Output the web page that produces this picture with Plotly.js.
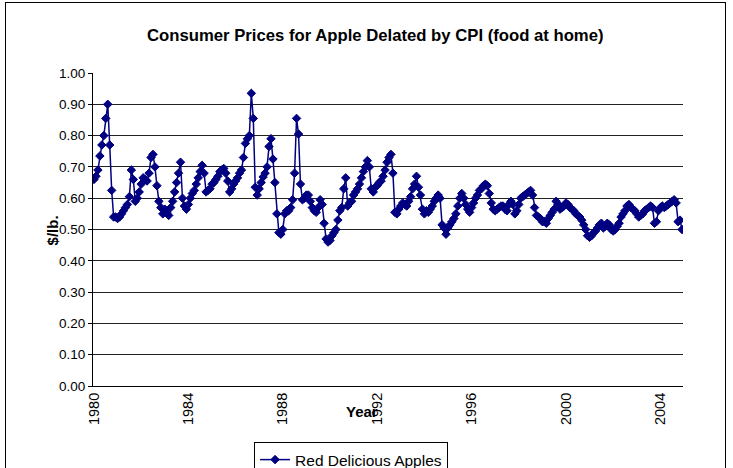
<!DOCTYPE html>
<html>
<head>
<meta charset="utf-8">
<script src="https://cdn.plot.ly/plotly-3.0.1.min.js"></script>
<style>
  html, body { margin: 0; padding: 0; background: #fff; overflow: hidden; }
  #frame { position: absolute; left: 5px; top: 2px; width: 721px; height: 520px; border: 1px solid #000; box-sizing: border-box; pointer-events: none; z-index: 10; }
  #chart { position: absolute; left: 0; top: 0; width: 733px; height: 490px; }
</style>
</head>
<body>
<div id="chart"></div>
<div id="frame"></div>
<script>
// Monthly Red Delicious apple price deflated by CPI, Jan 1980 - Dec 2004 ($/lb.)
const seriesName = 'Red Delicious Apples';
const prices = [
  // 1980
  0.66, 0.67, 0.69, 0.735, 0.77, 0.80, 0.855, 0.90, 0.77, 0.625, 0.54, 0.54,
  // 1981
  0.535, 0.54, 0.55, 0.56, 0.57, 0.58, 0.605, 0.69, 0.66, 0.59, 0.60, 0.62,
  // 1982
  0.645, 0.665, 0.66, 0.655, 0.68, 0.73, 0.74, 0.70, 0.64, 0.59, 0.57, 0.55,
  // 1983
  0.565, 0.555, 0.545, 0.57, 0.59, 0.62, 0.65, 0.68, 0.715, 0.60, 0.575, 0.565,
  // 1984
  0.58, 0.60, 0.615, 0.625, 0.645, 0.665, 0.685, 0.705, 0.68, 0.62, 0.625, 0.63,
  // 1985
  0.645, 0.65, 0.66, 0.67, 0.685, 0.69, 0.695, 0.68, 0.655, 0.62, 0.63, 0.645,
  // 1986
  0.655, 0.665, 0.68, 0.69, 0.73, 0.775, 0.79, 0.80, 0.935, 0.855, 0.635, 0.61,
  // 1987
  0.63, 0.65, 0.668, 0.68, 0.70, 0.765, 0.79, 0.725, 0.65, 0.55, 0.49, 0.485,
  // 1988
  0.50, 0.55, 0.56, 0.56, 0.57, 0.595, 0.68, 0.855, 0.805, 0.645, 0.595, 0.60,
  // 1989
  0.61, 0.61, 0.59, 0.57, 0.56, 0.555, 0.57, 0.595, 0.58, 0.52, 0.47, 0.46,
  // 1990
  0.465, 0.48, 0.49, 0.50, 0.53, 0.56, 0.57, 0.63, 0.665, 0.575, 0.585, 0.59,
  // 1991
  0.61, 0.62, 0.63, 0.645, 0.665, 0.685, 0.70, 0.72, 0.70, 0.63, 0.62, 0.635,
  // 1992
  0.64, 0.65, 0.655, 0.67, 0.69, 0.715, 0.73, 0.74, 0.68, 0.555, 0.55, 0.565,
  // 1993
  0.575, 0.585, 0.58, 0.575, 0.59, 0.605, 0.63, 0.645, 0.67, 0.635, 0.61, 0.565,
  // 1994
  0.55, 0.56, 0.555, 0.565, 0.575, 0.59, 0.60, 0.61, 0.60, 0.515, 0.505, 0.485,
  // 1995
  0.505, 0.515, 0.525, 0.535, 0.55, 0.575, 0.60, 0.615, 0.60, 0.58, 0.565, 0.555,
  // 1996
  0.57, 0.585, 0.60, 0.61, 0.625, 0.63, 0.64, 0.645, 0.64, 0.615, 0.585, 0.565,
  // 1997
  0.56, 0.565, 0.57, 0.575, 0.575, 0.565, 0.56, 0.58, 0.59, 0.58, 0.55, 0.56,
  // 1998
  0.58, 0.60, 0.605, 0.61, 0.615, 0.62, 0.625, 0.61, 0.57, 0.545, 0.54, 0.535,
  // 1999
  0.525, 0.525, 0.52, 0.535, 0.545, 0.555, 0.565, 0.59, 0.58, 0.565, 0.57, 0.575,
  // 2000
  0.585, 0.58, 0.57, 0.565, 0.56, 0.55, 0.545, 0.54, 0.53, 0.515, 0.50, 0.48,
  // 2001
  0.475, 0.48, 0.49, 0.495, 0.505, 0.515, 0.52, 0.505, 0.51, 0.52, 0.515, 0.50,
  // 2002
  0.495, 0.50, 0.51, 0.52, 0.54, 0.55, 0.56, 0.575, 0.58, 0.57, 0.565, 0.56,
  // 2003
  0.55, 0.54, 0.545, 0.55, 0.56, 0.565, 0.57, 0.575, 0.57, 0.52, 0.525, 0.56,
  // 2004
  0.57, 0.575, 0.57, 0.575, 0.58, 0.585, 0.59, 0.595, 0.585, 0.525, 0.53, 0.50
];
const tickPositions = [0, 48, 96, 144, 192, 240, 288];
const tickLabels = ['1980', '1984', '1988', '1992', '1996', '2000', '2004'];
const yTicks = [0, 0.1, 0.2, 0.3, 0.4, 0.5, 0.6, 0.7, 0.8, 0.9, 1.0];

const monthIndex = prices.map((_, i) => i);
const FONT = 'Liberation Sans, Arial, sans-serif';

const trace = {
  type: 'scatter',
  mode: 'lines+markers',
  name: seriesName,
  x: monthIndex,
  y: prices,
  line: { color: '#000080', width: 1.5 },
  marker: { symbol: 'diamond', size: 6.5, color: '#000080', line: { color: '#000080', width: 1 } }
};

const layout = {
  width: 733,
  height: 490,
  margin: { l: 93, r: 50, t: 73, b: 104 },
  paper_bgcolor: '#ffffff',
  plot_bgcolor: '#ffffff',
  font: { family: FONT, size: 14, color: '#000' },
  title: {
    text: '<b>Consumer Prices for Apple Delated by CPI (food at home)</b>',
    font: { family: FONT, size: 16.7, color: '#000' },
    x: 0.512, xanchor: 'center', y: 0.929, yanchor: 'middle'
  },
  xaxis: {
    range: [-0.5, 299.5],
    tickmode: 'array',
    tickvals: tickPositions,
    ticktext: tickLabels,
    tickangle: -90,
    ticks: '',
    showgrid: false,
    zeroline: false,
    showline: true,
    linecolor: '#000',
    linewidth: 1,
    tickfont: { family: FONT, size: 14.5, color: '#000' },
    fixedrange: true
  },
  yaxis: {
    range: [0, 1.0],
    tickmode: 'array',
    tickvals: yTicks,
    tickformat: '.2f',
    ticks: 'outside',
    ticklen: 4,
    tickcolor: '#000',
    showgrid: true,
    gridcolor: '#222',
    gridwidth: 1,
    zeroline: false,
    showline: true,
    linecolor: '#000',
    linewidth: 1,
    tickfont: { family: FONT, size: 13.5, color: '#000' },
    fixedrange: true
  },
  showlegend: true,
  legend: {
    x: 0.273, xanchor: 'left',
    y: -0.179, yanchor: 'top',
    bordercolor: '#000', borderwidth: 1,
    bgcolor: '#fff',
    font: { family: FONT, size: 15.5, color: '#000' }
  },
  annotations: [
    { text: '<b>Year</b>', xref: 'paper', yref: 'paper', x: 0.456, y: -0.083,
      xanchor: 'center', yanchor: 'middle', showarrow: false,
      font: { family: FONT, size: 15, color: '#000' } },
    { text: '<b>$/lb.</b>', xref: 'paper', yref: 'paper', x: -0.069, y: 0.498,
      xanchor: 'center', yanchor: 'middle', showarrow: false, textangle: -90,
      font: { family: FONT, size: 15, color: '#000' } }
  ]
};

Plotly.newPlot('chart', [trace], layout, { staticPlot: true, displayModeBar: false });
</script>
</body>
</html>
